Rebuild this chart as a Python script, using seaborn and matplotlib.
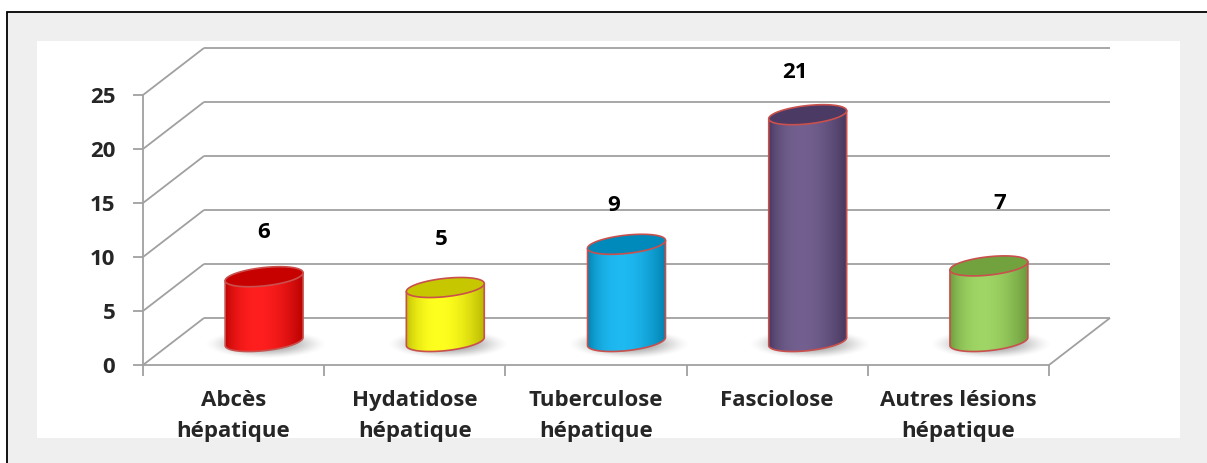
import numpy as np
import pandas as pd
import matplotlib
matplotlib.use("Agg")
import matplotlib.pyplot as plt
import seaborn as sns
from matplotlib.patches import Rectangle, PathPatch, Polygon
from matplotlib.path import Path
from matplotlib.colors import to_rgb

# ---- data -----------------------------------------------------------------
categories = ["Abcès\nhépatique", "Hydatidose\nhépatique", "Tuberculose\nhépatique",
              "Fasciolose", "Autres lésions\nhépatique"]
counts = [6, 5, 9, 21, 7]
bar_colors = ["#ff0000", "#ffff00", "#00b0f0", "#5f4a80", "#92d050"]
y_ticks = [0, 5, 10, 15, 20, 25]

# value-label nudges (category units, count units) above each cylinder top
label_nudge = [(0.0, 4.1), (-0.02, 4.4), (-0.07, 3.6), (-0.07, 3.9), (0.06, 5.8)]

# ---- layout ---------------------------------------------------------------
W, H, DPI = 1207, 463, 100
FX0, FX1, FY0, FY1 = 143, 1049, 95, 365      # front plane of the plot box (px)
DX, DY = 61, 47                               # depth offset to the back wall (px)
GRID = "#a0a0a0"
EDGE = "#c9504d"
FS = 16
FONT = "Open Sans"
FLOOR_PAD = 4                                 # room below zero for rims/shadows

sns.set_style("white")
plt.rcParams["font.family"] = FONT
plt.rcParams["font.weight"] = "bold"

fig = plt.figure(figsize=(W / DPI, H / DPI), dpi=DPI, facecolor="white")


def box(x0, y0, x1, y1):
    """pixel box (top-left origin) -> figure fraction rect"""
    return [x0 / W, 1 - y1 / H, (x1 - x0) / W, (y1 - y0) / H]


# outer frame and white chart area
fig.patches.append(Rectangle((7 / W, -0.1), 1.1, 1 - 12 / H + 0.1,
                             transform=fig.transFigure, facecolor="#efefef",
                             edgecolor="black", lw=1.3, zorder=-10))
fig.patches.append(Rectangle((37 / W, 1 - 438 / H), (1180 - 37) / W, (438 - 41) / H,
                             transform=fig.transFigure, facecolor="white",
                             edgecolor="none", zorder=-9))

ncat = len(categories)
ymax = y_ticks[-1]
pxu = (FY1 - FY0) / ymax

# ---- front axes: walls, floor, ticks --------------------------------------
ax = fig.add_axes(box(FX0, FY0, FX1, FY1))
ax.patch.set_alpha(0)
ax.set_xlim(-0.5, ncat - 0.5)
ax.set_ylim(0, ymax)
dxd = DX / ((FX1 - FX0) / ncat)
dyd = DY / pxu

grid_kw = dict(color=GRID, lw=1.3, clip_on=False, zorder=1, solid_capstyle="butt")
for t in y_ticks:
    ax.plot([-0.5 + dxd, ncat - 0.5 + dxd], [t + dyd, t + dyd], **grid_kw)
    ax.plot([-0.5, -0.5 + dxd], [t, t + dyd], **grid_kw)
ax.plot([ncat - 0.5, ncat - 0.5 + dxd], [0, dyd], **grid_kw)

for s in ["top", "right"]:
    ax.spines[s].set_visible(False)
for s in ["left", "bottom"]:
    ax.spines[s].set_color(GRID)
    ax.spines[s].set_linewidth(1.3)

tick_font = dict(family=FONT, weight="bold", size=FS)
ax.set_yticks(y_ticks)
ax.set_yticklabels([str(t) for t in y_ticks], fontdict=tick_font)
ax.tick_params(axis="y", left=True, length=7, width=1.3, color=GRID, pad=13)
ax.set_xticks(range(ncat))
ax.set_xticklabels(categories, fontdict=tick_font, linespacing=1.6)
ax.set_xticks(np.arange(-0.5, ncat), minor=True)
ax.tick_params(axis="x", which="major", bottom=True, length=0, pad=18)
ax.tick_params(axis="x", which="minor", bottom=True, length=8, width=1.3, color=GRID)
ax.set_xlabel("")
ax.set_ylabel("")

# ---- mid-depth axes: the cylinders ----------------------------------------
mid = fig.add_axes(box(FX0 + DX / 2, FY0 - DY / 2,
                       FX1 + DX / 2, FY1 - DY / 2 + FLOOR_PAD * pxu))
mid.patch.set_alpha(0)
df = pd.DataFrame({"cat": categories, "n": counts})
sns.barplot(data=df, x="cat", y="n", hue="cat", palette=bar_colors, width=0.43,
            saturation=1, legend=False, ax=mid)

EH = 1.7      # ellipse height (count units)
SK = 0.37     # perspective tilt of the rims (count units)


def rim(cx, a, cy, t):
    return cx + a * np.cos(t), cy + (EH / 2) * np.sin(t) + SK * np.cos(t)


def shadow(cx):
    gx = np.linspace(-1, 1, 120)
    gy = np.linspace(-1, 1, 60)
    X, Y = np.meshgrid(gx, gy)
    r2 = X ** 2 + Y ** 2
    img = np.zeros((60, 120, 4))
    img[..., :3] = 0.33
    img[..., 3] = 0.6 * np.clip(1 - r2, 0, 1) ** 1.8
    mid.imshow(img, extent=(cx - 0.33, cx + 0.35, -1.6, 1.1), origin="lower",
               aspect="auto", interpolation="bilinear", zorder=2)


def cylinder(x, w, h, col):
    cx, a = x + w / 2, w / 2
    base = np.array(to_rgb(col))
    tb = np.linspace(np.pi, 2 * np.pi, 80)
    bx, by = rim(cx, a, 0, tb)
    # body outline: left side, bottom front arc, right side
    px = np.concatenate([[cx - a], bx, [cx + a]])
    py = np.concatenate([[h - SK], by, [h + SK]])
    body = Path(np.column_stack([np.append(px, px[0]), np.append(py, py[0])]))
    clip = PathPatch(body, transform=mid.transData, facecolor="none", edgecolor="none")
    mid.add_patch(clip)
    # horizontal shading of the curved surface
    u = np.linspace(0, 1, 256)
    f = np.sin(np.pi * u ** 0.8) ** 0.8
    dark = base * 0.72
    light = base + (1 - base) * 0.12
    rgb = dark[None, :] + (light - dark)[None, :] * f[:, None]
    img = np.repeat(rgb[None, :, :], 2, axis=0)
    im = mid.imshow(img, extent=(cx - a, cx + a, -EH, h + EH), origin="lower",
                    aspect="auto", interpolation="bilinear", zorder=3)
    im.set_clip_path(clip)
    mid.plot(px, py, color=EDGE, lw=1.2, zorder=4, solid_joinstyle="round")
    # top face
    tt = np.linspace(0, 2 * np.pi, 160)
    tx, ty = rim(cx, a, h, tt)
    mid.add_patch(Polygon(np.column_stack([tx, ty]), closed=True,
                          facecolor=base * 0.78, edgecolor=EDGE, lw=1.2, zorder=5))
    return cx


bars = sorted(mid.patches, key=lambda p: p.get_x())
for bar, v, (nx, ny) in zip(bars, counts, label_nudge):
    col = bar.get_facecolor()
    x, w, h = bar.get_x(), bar.get_width(), bar.get_height()
    bar.set_facecolor("none")
    bar.set_edgecolor("none")
    shadow(x + w / 2)
    cx = cylinder(x, w, h, col)
    mid.text(cx + nx, h + ny, f"{v:g}", ha="center", va="center",
             family=FONT, fontsize=FS, fontweight="bold", color="black", zorder=6)

mid.set_xlim(-0.5, ncat - 0.5)
mid.set_ylim(-FLOOR_PAD, ymax)
mid.axis("off")

fig.savefig("out.png", dpi=DPI)
